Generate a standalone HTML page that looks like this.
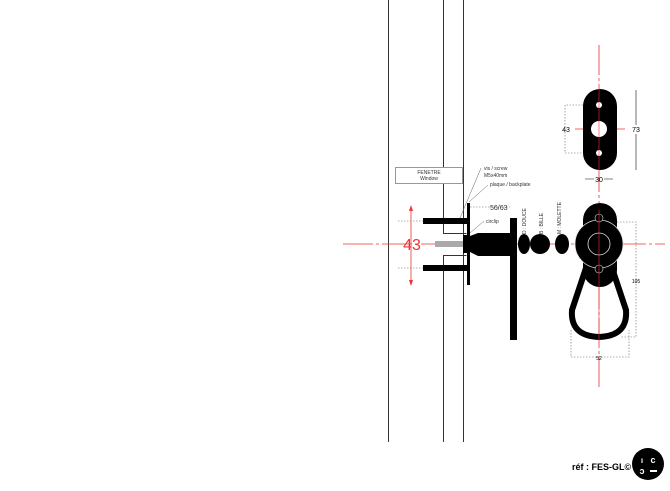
<!DOCTYPE html>
<html><head><meta charset="utf-8"><style>
html,body{margin:0;padding:0;background:#fff;width:670px;height:491px;overflow:hidden}
svg{display:block;font-family:"Liberation Sans",sans-serif}
</style></head><body>
<svg width="670" height="491" viewBox="0 0 670 491">
<g stroke="#333" stroke-width="1" fill="none">
<line x1="388.5" y1="0" x2="388.5" y2="442"/>
<polyline points="443.5,0 443.5,233.5 466.5,233.5"/>
<polyline points="466.5,255.5 443.5,255.5 443.5,442"/>
<line x1="463.5" y1="0" x2="463.5" y2="442"/>
</g>
<rect x="395.5" y="167.5" width="67" height="16" fill="#fff" stroke="#999"/>
<text x="429" y="174" font-size="5" text-anchor="middle" fill="#333">FENETRE</text>
<text x="429" y="180" font-size="5" text-anchor="middle" fill="#333">Window</text>
<g stroke="#e33" stroke-width="0.8">
<line x1="343" y1="244" x2="665" y2="244" stroke-dasharray="30 3 3 3"/>
<line x1="599" y1="45" x2="599" y2="390" stroke-dasharray="30 3 3 3"/>
<line x1="575" y1="129" x2="625" y2="129"/>
<line x1="411" y1="207" x2="411" y2="284"/>
</g>
<polygon points="411,205 409,211 413,211" fill="#e33"/>
<polygon points="411,286 409,280 413,280" fill="#e33"/>
<text x="412" y="250" font-size="16" fill="#e33" text-anchor="middle">43</text>
<g stroke="#666" stroke-width="0.6" stroke-dasharray="1.5 1.5" fill="none">
<line x1="398" y1="221" x2="423" y2="221"/>
<line x1="398" y1="268" x2="423" y2="268"/>
<line x1="470" y1="207" x2="510" y2="207"/>
<polyline points="583,105 565,105 565,153 583,153"/>
<polyline points="608,222 636,222 636,337 620,337"/>
<polyline points="571,330 571,357 629,357 629,330"/>
</g>
<rect x="423" y="218" width="47" height="6" fill="#000"/>
<rect x="423" y="265" width="47" height="6" fill="#000"/>
<rect x="467" y="203" width="3" height="82" fill="#000"/>
<rect x="435" y="241" width="28" height="6" fill="#aaa"/>
<rect x="463" y="235" width="7" height="18" fill="#000"/>
<path d="M470,236 L478,233 L510,233 L510,256 L478,256 L470,252Z" fill="#000"/>
<rect x="510" y="218" width="7" height="122" fill="#000"/>
<ellipse cx="524" cy="244" rx="6" ry="10" fill="#000"/>
<circle cx="540" cy="244" r="10" fill="#000"/>
<ellipse cx="562" cy="244" rx="7" ry="10" fill="#000"/>
<g font-size="5" fill="#333">
<text x="484" y="170">vis / screw</text>
<text x="484" y="177">M5x40mm</text>
<text x="490" y="186">plaque / backplate</text>
<text x="486" y="223">circlip</text>
<text x="490" y="210" font-size="7">56/63</text>
<text transform="translate(526,234) rotate(-90)">D : DOUCE</text>
<text transform="translate(543,234) rotate(-90)">B : BILLE</text>
<text transform="translate(561,234) rotate(-90)">M : MOLETTE</text>
</g>
<g stroke="#666" stroke-width="0.5" fill="none">
<line x1="481" y1="168" x2="460" y2="218"/>
<line x1="488" y1="185" x2="469" y2="202"/>
<line x1="484" y1="221" x2="470" y2="233"/>
</g>
<rect x="583" y="89" width="34" height="81" rx="17" fill="#000"/>
<circle cx="599" cy="129" r="8" fill="#fff"/>
<circle cx="599" cy="105" r="3" fill="#fff"/>
<circle cx="599" cy="153" r="3" fill="#fff"/>
<line x1="599" y1="89" x2="599" y2="170" stroke="#e33" stroke-width="0.6"/>
<line x1="636" y1="90" x2="636" y2="170" stroke="#333" stroke-width="0.7"/>
<text x="566" y="132" font-size="7" text-anchor="middle">43</text>
<rect x="632" y="125" width="8" height="9" fill="#fff"/>
<text x="636" y="132" font-size="7" text-anchor="middle">73</text>
<line x1="585" y1="179" x2="594" y2="179" stroke="#333" stroke-width="0.6"/>
<line x1="604" y1="179" x2="613" y2="179" stroke="#333" stroke-width="0.6"/>
<text x="599" y="182" font-size="7" text-anchor="middle">30</text>
<rect x="583" y="203" width="34" height="84" rx="17" fill="#000"/>
<path d="M588,262 L610,262 L626,310 Q628,336 599,337 Q570,336 572,310 Z" fill="none" stroke="#000" stroke-width="6"/>
<circle cx="599" cy="244" r="24" fill="#000" stroke="#ddd" stroke-width="0.8"/>
<circle cx="599" cy="244" r="11" fill="none" stroke="#ddd" stroke-width="0.8"/>
<circle cx="599" cy="218" r="4" fill="#000" stroke="#ddd" stroke-width="0.6"/>
<circle cx="599" cy="269" r="4" fill="#000" stroke="#ddd" stroke-width="0.6"/>
<line x1="599" y1="210" x2="599" y2="340" stroke="#e33" stroke-width="0.6"/>
<text x="636" y="283" font-size="5" text-anchor="middle">105</text>
<text x="599" y="360" font-size="5" text-anchor="middle">52</text>
<text x="572" y="470" font-size="9" font-weight="bold" fill="#000">réf : FES-GL©</text>
<circle cx="648" cy="464" r="16" fill="#000"/>
<text x="642" y="463" font-size="8" font-weight="bold" fill="#fff" text-anchor="middle">ı</text>
<text x="653" y="463" font-size="9" font-weight="bold" fill="#fff" text-anchor="middle">c</text>
<text x="642" y="474" font-size="9" font-weight="bold" fill="#fff" text-anchor="middle">ↄ</text>
<rect x="650" y="470" width="7" height="2" fill="#fff"/>
</svg>
</body></html>
